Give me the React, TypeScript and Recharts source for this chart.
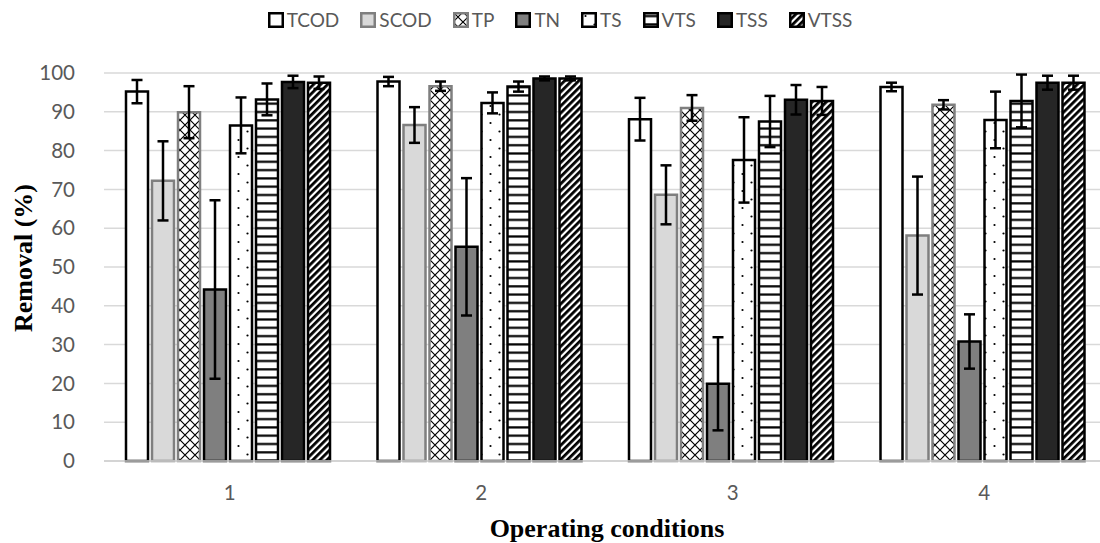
import { Bar, BarChart, CartesianGrid, ErrorBar, XAxis, YAxis } from "recharts";

// Removal efficiency per operating condition, mean and standard deviation (%)
const conditions = ["1", "2", "3", "4"];
const yTicks = [0, 10, 20, 30, 40, 50, 60, 70, 80, 90, 100];

const tcod = [95.2, 97.8, 88.1, 96.4];
const tcodSd = [3.0, 1.2, 5.5, 1.1];
const scod = [72.2, 86.6, 68.6, 58.1];
const scodSd = [10.2, 4.6, 7.6, 15.2];
const tp = [89.9, 96.6, 91.0, 91.8];
const tpSd = [6.7, 1.2, 3.3, 1.2];
const tn = [44.2, 55.2, 19.9, 30.8];
const tnSd = [23.0, 17.7, 12.0, 7.0];
const ts = [86.5, 92.3, 77.6, 87.9];
const tsSd = [7.2, 2.7, 11.0, 7.3];
const vts = [93.2, 96.5, 87.5, 92.8];
const vtsSd = [4.1, 1.3, 6.6, 6.8];
const tss = [97.7, 98.6, 93.1, 97.5];
const tssSd = [1.6, 0.5, 3.8, 1.8];
const vtss = [97.5, 98.6, 92.8, 97.5];
const vtssSd = [1.6, 0.5, 3.6, 1.8];

const series = [
  { key: "TCOD", values: tcod, sd: tcodSd, fill: "#ffffff", stroke: "#000000" },
  { key: "SCOD", values: scod, sd: scodSd, fill: "#d9d9d9", stroke: "#7f7f7f" },
  { key: "TP", values: tp, sd: tpSd, fill: "url(#pat-cross)", stroke: "#7f7f7f" },
  { key: "TN", values: tn, sd: tnSd, fill: "#7f7f7f", stroke: "#000000" },
  { key: "TS", values: ts, sd: tsSd, fill: "url(#pat-dots)", stroke: "#000000" },
  { key: "VTS", values: vts, sd: vtsSd, fill: "url(#pat-hlines)", stroke: "#000000" },
  { key: "TSS", values: tss, sd: tssSd, fill: "#262626", stroke: "#000000" },
  { key: "VTSS", values: vtss, sd: vtssSd, fill: "url(#pat-diag)", stroke: "#000000" },
];

const rows = conditions.map((name, i) => {
  const row: Record<string, string | number> = { name };
  series.forEach((s) => {
    row[s.key] = s.values[i];
    row[`${s.key}_sd`] = s.sd[i];
  });
  return row;
});

const TEXT_GREY = "#595959";
const SANS = "Lato, 'Open Sans', sans-serif";
const SERIF = "'Liberation Serif', 'Times New Roman', serif";

function YTitle({ viewBox }: any) {
  const { x, y, height } = viewBox;
  const cx = x + 23;
  const cy = y + height / 2 - 9;
  return (
    <text
      x={cx}
      y={cy}
      transform={`rotate(-90 ${cx} ${cy})`}
      textAnchor="middle"
      dominantBaseline="central"
      fontFamily={SERIF}
      fontWeight="bold"
      fontSize={26}
      fill="#000"
    >
      Removal (%)
    </text>
  );
}

function XTitle({ viewBox }: any) {
  const { x, y, width, height } = viewBox;
  return (
    <text
      x={x + width / 2}
      y={y + height + 16}
      textAnchor="middle"
      fontFamily={SERIF}
      fontWeight="bold"
      fontSize={26}
      fill="#000"
    >
      Operating conditions
    </text>
  );
}

function PatternLegend() {
  return (
    <div
      style={{
        position: "absolute",
        top: 9,
        left: 0,
        width: 1120,
        display: "flex",
        justifyContent: "center",
        gap: 21,
        fontFamily: SANS,
        fontSize: 19,
        color: TEXT_GREY,
        lineHeight: "22px",
      }}
    >
      {series.map((s) => (
        <div key={s.key} style={{ display: "flex", alignItems: "center" }}>
          <svg width={16} height={16} style={{ marginRight: 3 }}>
            <rect
              x={1.25}
              y={1.25}
              width={13.5}
              height={13.5}
              fill={s.fill}
              stroke={s.stroke}
              strokeWidth={2.5}
            />
          </svg>
          <span>{s.key}</span>
        </div>
      ))}
    </div>
  );
}

export default function App() {
  return (
    <div
      style={{
        position: "absolute",
        left: 0,
        top: 0,
        width: 1100,
        height: 543,
        overflow: "hidden",
        background: "#fff",
      }}
    >
      <BarChart
        width={1112}
        height={543}
        data={rows}
        margin={{ top: 73, right: 2, bottom: 22, left: 0 }}
        barCategoryGap={22}
        barGap={4}
      >
        <defs>
          <pattern id="pat-cross" width={10} height={10} patternUnits="userSpaceOnUse">
            <rect width={10} height={10} fill="#fff" />
            <path d="M0 0L10 10M10 0L0 10" stroke="#000" strokeWidth={1.2} />
          </pattern>
          <pattern id="pat-dots" width={18} height={17} patternUnits="userSpaceOnUse">
            <rect width={18} height={17} fill="#fff" />
            <circle cx={4.5} cy={4} r={1.1} fill="#000" />
            <circle cx={13.5} cy={12.5} r={1.1} fill="#000" />
          </pattern>
          <pattern id="pat-hlines" width={8} height={8.3} patternUnits="userSpaceOnUse">
            <rect width={8} height={8.3} fill="#fff" />
            <rect y={3} width={8} height={2.2} fill="#000" />
          </pattern>
          <pattern
            id="pat-diag"
            width={5}
            height={5}
            patternUnits="userSpaceOnUse"
            patternTransform="rotate(45)"
          >
            <rect width={5} height={5} fill="#fff" />
            <rect width={2.8} height={5} fill="#000" />
          </pattern>
        </defs>
        <CartesianGrid vertical={false} stroke="#d9d9d9" strokeWidth={1.5} />
        <XAxis
          dataKey="name"
          height={60}
          tickLine={false}
          axisLine={{ stroke: "#cfcfcf", strokeWidth: 1.5 }}
          tickMargin={18}
          tick={{ fill: TEXT_GREY, fontSize: 20.5, fontFamily: SANS }}
          label={<XTitle />}
        />
        <YAxis
          width={104}
          domain={[0, 100]}
          ticks={yTicks}
          interval={0}
          tickLine={false}
          axisLine={false}
          tickMargin={23}
          tick={{ fill: TEXT_GREY, fontSize: 20.5, fontFamily: SANS }}
          label={<YTitle />}
        />
        {series.map((s) => (
          <Bar
            key={s.key}
            dataKey={s.key}
            fill={s.fill}
            stroke={s.stroke}
            strokeWidth={2.5}
            isAnimationActive={false}
          >
            <ErrorBar
              dataKey={`${s.key}_sd`}
              direction="y"
              width={5.5}
              stroke="#000"
              strokeWidth={2.5}
              isAnimationActive={false}
            />
          </Bar>
        ))}
      </BarChart>
      <PatternLegend />
    </div>
  );
}
